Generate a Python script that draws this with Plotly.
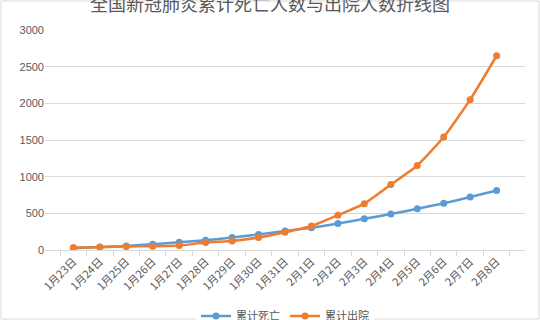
import plotly.graph_objects as go

dates = ["1月23日","1月24日","1月25日","1月26日","1月27日","1月28日","1月29日","1月30日","1月31日",
         "2月1日","2月2日","2月3日","2月4日","2月5日","2月6日","2月7日","2月8日"]
deaths = [25, 41, 56, 80, 106, 132, 170, 213, 259, 304, 361, 425, 490, 563, 636, 722, 811]
discharged = [34, 38, 49, 51, 60, 103, 124, 171, 243, 328, 475, 632, 892, 1153, 1540, 2050, 2649]
yticks = [0, 500, 1000, 1500, 2000, 2500, 3000]

FONT = "Noto Sans CJK SC, Liberation Sans, sans-serif"
fig = go.Figure()
fig.add_trace(go.Scatter(x=dates, y=deaths, name="累计死亡", mode="lines+markers",
                         line=dict(color="#5B9BD5", width=2.5, shape="spline", smoothing=0.5),
                         marker=dict(size=7, color="#5B9BD5")))
fig.add_trace(go.Scatter(x=dates, y=discharged, name="累计出院", mode="lines+markers",
                         line=dict(color="#ED7D31", width=2.5, shape="spline", smoothing=0.5),
                         marker=dict(size=7, color="#ED7D31")))

L, R, T, B = 45, 15, 30, 70
W, H = 540, 320
pw, ph = W - L - R, H - T - B
fig.update_layout(
    width=W, height=H, margin=dict(l=L, r=R, t=T, b=B, autoexpand=False),
    paper_bgcolor="white", plot_bgcolor="white",
    font=dict(family=FONT, color="#595959", size=11),
    title=dict(text="全国新冠肺炎累计死亡人数与出院人数折线图", x=0.5, xanchor="center",
               y=1 - 5 / H, yanchor="middle", font=dict(size=18, color="#595959")),
    showlegend=True,
    legend=dict(orientation="h", x=0.5, xanchor="center", y=-66 / ph, yanchor="middle",
                font=dict(size=11, color="#595959")),
    xaxis=dict(type="category", tickangle=-45, ticks="outside", tickson="boundaries",
               ticklen=5, tickcolor="#d9d9d9", showline=True, linecolor="#d9d9d9",
               showgrid=False, automargin=False, tickfont=dict(size=11, color="#595959")),
    yaxis=dict(range=[0, 3000], tickvals=yticks, showgrid=True, gridcolor="#d9d9d9",
               zeroline=False, showline=False, ticks="", ticksuffix="  ", automargin=False,
               tickfont=dict(size=11, color="#595959", family="Liberation Sans, sans-serif")),
    shapes=[dict(type="rect", xref="paper", yref="paper",
                 x0=-(L - 1) / pw, x1=1 + (R - 1) / pw, y0=-(B - 1) / ph, y1=1 + (T - 1) / ph,
                 line=dict(color="#d9d9d9", width=1), fillcolor="rgba(0,0,0,0)", layer="below")],
)
fig.write_html("out.html")
